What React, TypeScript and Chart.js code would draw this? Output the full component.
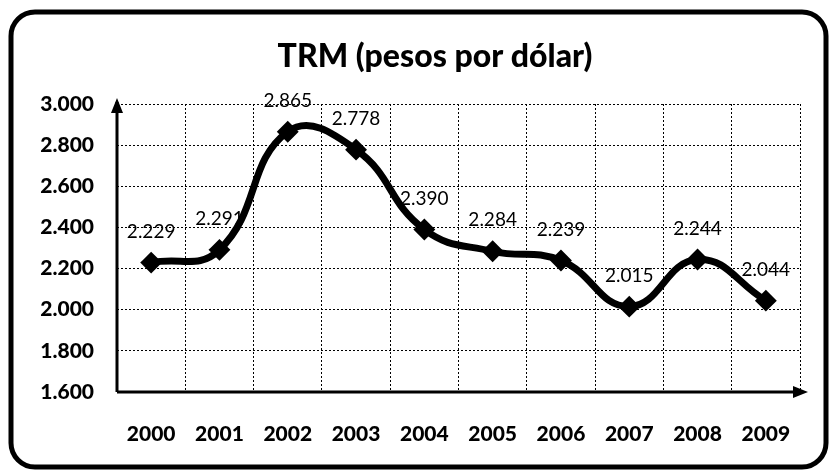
import React, { useEffect, useRef } from "react";
import { Chart, registerables } from "chart.js";

Chart.register(...registerables);

const years = ["2000", "2001", "2002", "2003", "2004", "2005", "2006", "2007", "2008", "2009"];
const trm = [2229, 2291, 2865, 2778, 2390, 2284, 2239, 2015, 2244, 2044];
const yTicks = [1600, 1800, 2000, 2200, 2400, 2600, 2800, 3000];
const titleText = "TRM (pesos por dólar)";

const fmt = (v: number) => {
  const s = String(Math.round(v));
  return s.length > 3 ? s.slice(0, s.length - 3) + "." + s.slice(-3) : s;
};

const FONT = "Lato, 'Open Sans', sans-serif";

const decorPlugin = {
  id: "decor",
  beforeDraw(chart: any) {
    const { ctx, width, height } = chart;
    ctx.save();
    ctx.fillStyle = "#fff";
    ctx.fillRect(0, 0, width, height);
    ctx.restore();
  },
  afterDatasetsDraw(chart: any) {
    const { ctx, chartArea } = chart;
    const { left, right, top, bottom } = chartArea;
    ctx.save();
    // axes with arrows
    ctx.strokeStyle = "#000";
    ctx.fillStyle = "#000";
    ctx.lineWidth = 3;
    ctx.beginPath();
    ctx.moveTo(left, bottom);
    ctx.lineTo(left, top - 2);
    ctx.moveTo(left, bottom);
    ctx.lineTo(right + 2, bottom);
    ctx.stroke();
    ctx.beginPath();
    ctx.moveTo(left, top - 6);
    ctx.lineTo(left - 6, top + 9);
    ctx.lineTo(left + 6, top + 9);
    ctx.closePath();
    ctx.fill();
    ctx.beginPath();
    ctx.moveTo(right + 8, bottom);
    ctx.lineTo(right - 7, bottom - 6);
    ctx.lineTo(right - 7, bottom + 6);
    ctx.closePath();
    ctx.fill();
    // data labels
    const meta = chart.getDatasetMeta(0);
    ctx.font = `19px ${FONT}`;
    ctx.textAlign = "center";
    ctx.textBaseline = "middle";
    meta.data.forEach((pt: any, i: number) => {
      ctx.fillText(fmt(trm[i]), pt.x, pt.y - 31);
    });
    ctx.restore();
  },
  afterDraw(chart: any) {
    const { ctx, width, height } = chart;
    ctx.save();
    // title
    ctx.fillStyle = "#000";
    ctx.font = `900 32px ${FONT}`;
    ctx.textAlign = "center";
    ctx.textBaseline = "middle";
    ctx.fillText(titleText, 435, 57);
    // rounded frame
    ctx.strokeStyle = "#000";
    ctx.lineWidth = 5;
    ctx.beginPath();
    ctx.roundRect(11, 12, width - 16, height - 16, 24);
    ctx.stroke();
    ctx.restore();
  },
};

export default function App() {
  const ref = useRef<HTMLCanvasElement | null>(null);
  useEffect(() => {
    document.body.style.margin = "0";
    const canvas = ref.current!;
    const chart = new Chart(canvas, {
      type: "line",
      data: {
        labels: years,
        datasets: [
          {
            data: trm,
            borderColor: "#000",
            backgroundColor: "#000",
            borderWidth: 7,
            tension: 0.45,
            pointStyle: "rectRot",
            pointRadius: 6,
            pointBackgroundColor: "#000",
            pointBorderColor: "#000",
          },
        ],
      },
      options: {
        animation: false,
        responsive: false,
        maintainAspectRatio: false,
        layout: { padding: { left: 0, right: 31, top: 104, bottom: 0 } },
        plugins: {
          legend: { display: false },
          tooltip: { enabled: false },
          title: { display: false },
        },
        scales: {
          x: {
            offset: true,
            grid: {
              offset: true,
              color: "#000",
              lineWidth: 1,
              drawTicks: false,
            },
            border: { display: false, dash: [2, 2] },
            ticks: {
              color: "#000",
              font: { family: FONT, size: 21, weight: "900" },
              padding: 30,
              maxRotation: 0,
            },
            afterFit(scale: any) {
              scale.height = 79;
            },
          },
          y: {
            min: 1600,
            max: 3000,
            afterBuildTicks(scale: any) {
              scale.ticks = yTicks.map((v) => ({ value: v }));
            },
            grid: { color: "#000", lineWidth: 1, drawTicks: false },
            border: { display: false, dash: [2, 2] },
            ticks: {
              color: "#000",
              font: { family: FONT, size: 21, weight: "900" },
              padding: 23,
              callback: (v: any) => fmt(Number(v)),
            },
            afterFit(scale: any) {
              scale.width = 117;
            },
          },
        },
      },
      plugins: [decorPlugin],
    });
    return () => chart.destroy();
  }, []);
  return <canvas ref={ref} width={831} height={471} style={{ display: "block" }} />;
}
